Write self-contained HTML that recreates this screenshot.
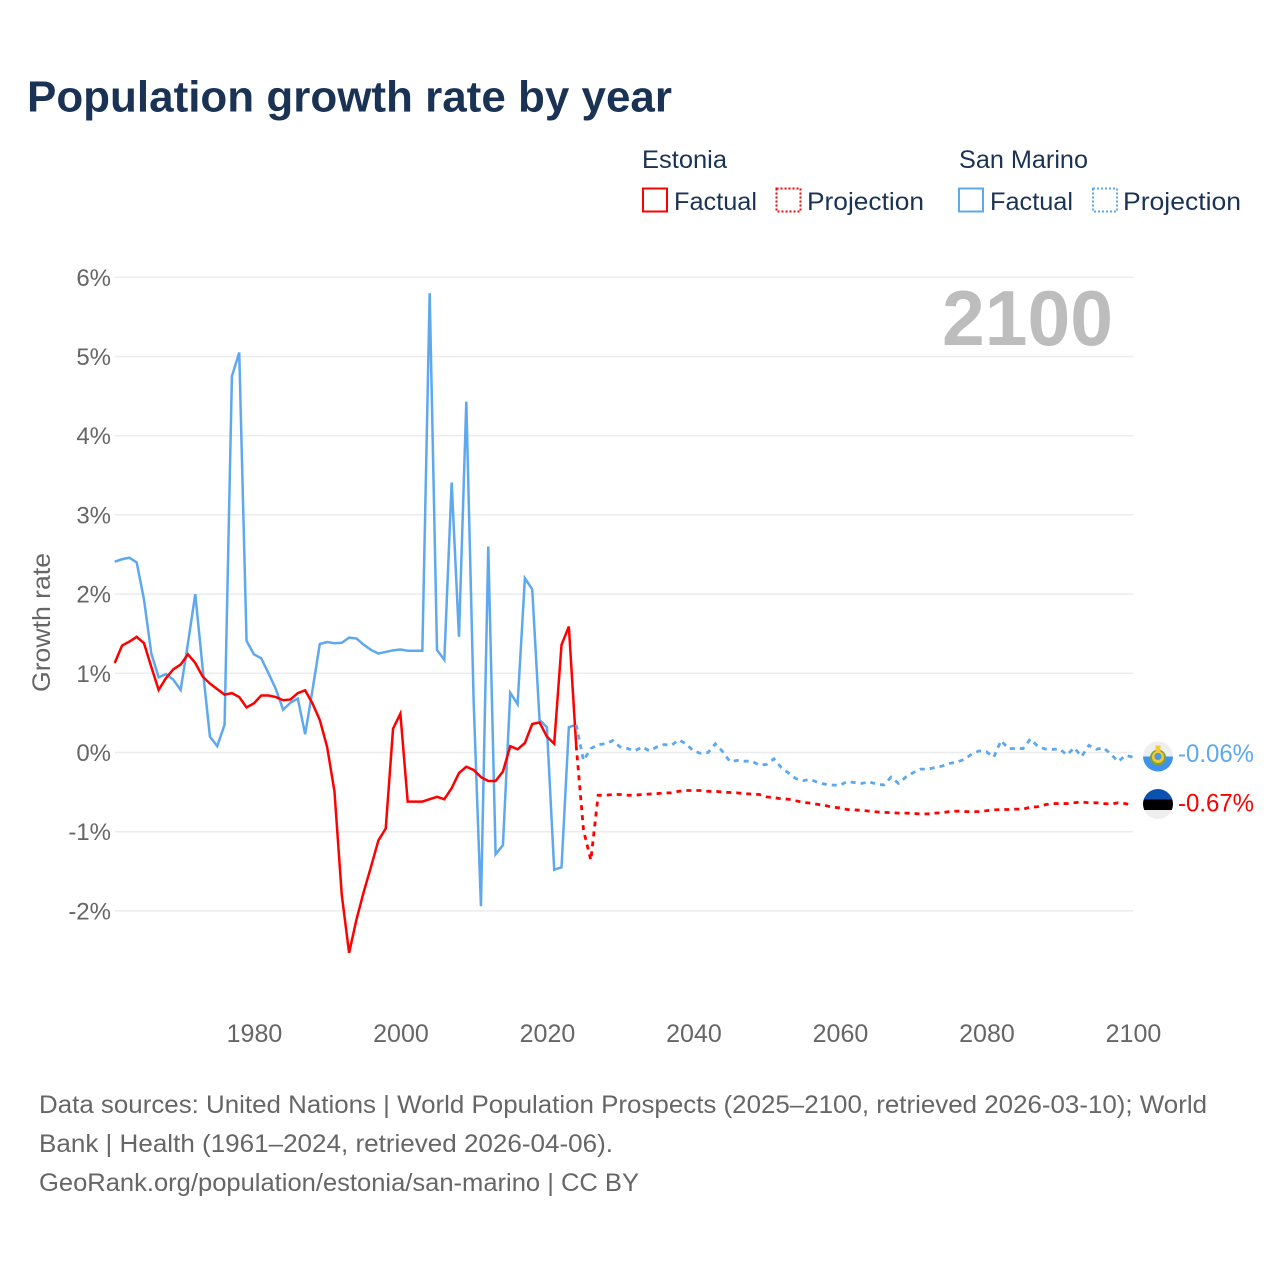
<!DOCTYPE html>
<html lang="en">
<head>
<meta charset="utf-8">
<title>Population growth rate by year</title>
<style>
html,body{margin:0;padding:0;background:#fff;}
svg{display:block;font-family:"Liberation Sans",sans-serif;}
</style>
</head>
<body>
<svg id="chart" width="1280" height="1280" viewBox="0 0 1280 1280" xmlns="http://www.w3.org/2000/svg">
  <defs>
    <clipPath id="clip-sm"><circle cx="1158" cy="756.5" r="15"/></clipPath>
    <clipPath id="clip-ee"><circle cx="1158" cy="804" r="15"/></clipPath>
  </defs>
  <rect x="0" y="0" width="1280" height="1280" fill="#fff"/>
  <text x="27" y="111.5" font-size="44" font-weight="700" fill="#1a3354" textLength="645" lengthAdjust="spacingAndGlyphs">Population growth rate by year</text>

  <g font-size="25" fill="#1a3354">
    <text x="642" y="168" textLength="85" lengthAdjust="spacingAndGlyphs">Estonia</text>
    <text x="959" y="168" textLength="129" lengthAdjust="spacingAndGlyphs">San Marino</text>
    <rect x="643" y="188.5" width="24" height="23" fill="none" stroke="#ff0000" stroke-width="2"/>
    <text x="674" y="210" textLength="83" lengthAdjust="spacingAndGlyphs">Factual</text>
    <rect x="776.5" y="188.5" width="24" height="23" fill="none" stroke="#ff0000" stroke-width="2" stroke-dasharray="2 2"/>
    <text x="807" y="210" textLength="117" lengthAdjust="spacingAndGlyphs">Projection</text>
    <rect x="959" y="188.5" width="24" height="23" fill="none" stroke="#5ea8ee" stroke-width="2"/>
    <text x="990" y="210" textLength="83" lengthAdjust="spacingAndGlyphs">Factual</text>
    <rect x="1093" y="188.5" width="24" height="23" fill="none" stroke="#5ea8ee" stroke-width="2" stroke-dasharray="2 2"/>
    <text x="1123" y="210" textLength="118" lengthAdjust="spacingAndGlyphs">Projection</text>
  </g>

  <g id="grid"></g>
  <g id="yticks"></g>
  <g id="xticks"></g>
  <text transform="translate(50,622.5) rotate(-90)" text-anchor="middle" font-size="25" fill="#666" textLength="139" lengthAdjust="spacingAndGlyphs">Growth rate</text>
  <text id="year-watermark" x="1113" y="345" text-anchor="end" font-size="78" font-weight="700" fill="#bdbdbd" textLength="171" lengthAdjust="spacingAndGlyphs">2100</text>

  <g id="series"></g>

  <g clip-path="url(#clip-sm)">
    <rect x="1143" y="741" width="30" height="16" fill="#eeeeee"/>
    <rect x="1143" y="756.5" width="30" height="16" fill="#3f92ea"/>
    <circle cx="1158" cy="757.5" r="8" fill="#7da33c"/>
    <circle cx="1158" cy="757" r="6" fill="#f3c935"/>
    <circle cx="1158" cy="756.5" r="3.6" fill="#4f97e0"/>
    <rect x="1155.5" y="745.5" width="5" height="6.5" fill="#f3c935"/>
  </g>
  <g clip-path="url(#clip-ee)">
    <rect x="1143" y="789" width="30" height="10.5" fill="#0a52ae"/>
    <rect x="1143" y="799.5" width="30" height="10.5" fill="#000"/>
    <rect x="1143" y="810" width="30" height="10" fill="#eeeeee"/>
  </g>

  <g id="end-labels"></g>

  <g font-size="25" fill="#666">
    <text x="39" y="1113" textLength="1168" lengthAdjust="spacingAndGlyphs">Data sources: United Nations | World Population Prospects (2025–2100, retrieved 2026-03-10); World</text>
    <text x="39" y="1152" textLength="574" lengthAdjust="spacingAndGlyphs">Bank | Health (1961–2024, retrieved 2026-04-06).</text>
    <text x="39" y="1191" textLength="600" lengthAdjust="spacingAndGlyphs">GeoRank.org/population/estonia/san-marino | CC BY</text>
  </g>
</svg>
<script>
const yTickValues = [6, 5, 4, 3, 2, 1, 0, -1, -2];
const yTickLabels = ['6%', '5%', '4%', '3%', '2%', '1%', '0%', '-1%', '-2%'];
const xTickYears = [1980, 2000, 2020, 2040, 2060, 2080, 2100];
const factualStartYear = 1961;
const projectionStartYear = 2024;

const estoniaFactual = [
  1.13, 1.35, 1.40, 1.46, 1.38, 1.08, 0.79, 0.94, 1.05,
  1.11, 1.24, 1.13, 0.96, 0.87, 0.80, 0.73, 0.75, 0.70, 0.57,
  0.62, 0.72, 0.72, 0.70, 0.66, 0.67, 0.75, 0.785, 0.62, 0.41,
  0.07, -0.49, -1.80, -2.53, -2.11, -1.76, -1.44, -1.11, -0.96, 0.30,
  0.49, -0.62, -0.62, -0.62, -0.59, -0.56, -0.59, -0.45, -0.26, -0.18,
  -0.22, -0.31, -0.36, -0.36, -0.24, 0.08, 0.04, 0.12, 0.36, 0.38,
  0.20, 0.11, 1.36, 1.59, 0.09
];
const sanMarinoFactual = [
  2.41, 2.44, 2.46, 2.40, 1.93, 1.25, 0.95, 0.99, 0.92,
  0.79, 1.38, 2.00, 1.07, 0.20, 0.08, 0.35, 4.75, 5.05, 1.41,
  1.24, 1.19, 1.00, 0.80, 0.54, 0.63, 0.68, 0.23, 0.79, 1.37,
  1.395, 1.38, 1.385, 1.45, 1.44, 1.36, 1.295, 1.25, 1.27, 1.29,
  1.30, 1.285, 1.285, 1.285, 5.80, 1.295, 1.17, 3.41, 1.46, 4.43,
  0.65, -1.94, 2.60, -1.285, -1.17, 0.755, 0.61, 2.20, 2.06, 0.41,
  0.32, -1.48, -1.45, 0.32, 0.35
];
const estoniaProjection = [
  0.09, -0.98, -1.36, -0.54, -0.54, -0.53, -0.53, -0.54, -0.54, -0.53,
  -0.525, -0.52, -0.51, -0.51, -0.49, -0.48, -0.48, -0.48, -0.49, -0.49,
  -0.50, -0.505, -0.51, -0.52, -0.525, -0.53, -0.56, -0.57, -0.585, -0.59,
  -0.61, -0.63, -0.64, -0.655, -0.67, -0.69, -0.70, -0.72, -0.725, -0.73,
  -0.74, -0.75, -0.755, -0.76, -0.765, -0.765, -0.77, -0.776, -0.775, -0.765,
  -0.76, -0.745, -0.74, -0.745, -0.75, -0.745, -0.735, -0.725, -0.72, -0.72,
  -0.715, -0.715, -0.69, -0.685, -0.66, -0.645, -0.645, -0.645, -0.635, -0.625,
  -0.635, -0.635, -0.645, -0.65, -0.635, -0.645, -0.67
];
const sanMarinoProjection = [
  0.35, -0.10, 0.05, 0.10, 0.11, 0.15, 0.07, 0.05, 0.02, 0.07,
  0.02, 0.07, 0.10, 0.09, 0.16, 0.11, 0.02, -0.01, 0.00, 0.11,
  0.01, -0.115, -0.10, -0.11, -0.11, -0.16, -0.15, -0.08, -0.19, -0.26,
  -0.33, -0.355, -0.34, -0.38, -0.40, -0.41, -0.415, -0.365, -0.38, -0.39,
  -0.37, -0.40, -0.41, -0.31, -0.39, -0.31, -0.255, -0.21, -0.21, -0.19,
  -0.17, -0.137, -0.12, -0.086, -0.02, 0.02, 0.01, -0.06, 0.15, 0.05,
  0.05, 0.05, 0.17, 0.08, 0.045, 0.04, 0.045, -0.03, 0.06, -0.05,
  0.09, 0.04, 0.06, -0.02, -0.115, -0.036, -0.06
];
const endValueLabels = ['-0.06%', '-0.67%'];
const endColors = ['#5ea8ee', '#ff0000'];
const endNames = ['end-label-san-marino', 'end-label-estonia'];

const SVGNS = 'http://www.w3.org/2000/svg';
const xScale = function (year) { return 114.7 + (year - 1961) * 7.325; };
const yScale = function (value) { return 752.5 - value * 79.2; };

function svgEl(tag, parent) {
  const el = document.createElementNS(SVGNS, tag);
  document.getElementById(parent).appendChild(el);
  return el;
}

yTickValues.forEach(function (v, i) {
  const line = svgEl('line', 'grid');
  
  
  line.setAttribute('x1', 115);
  line.setAttribute('x2', 1133);
  line.setAttribute('y1', yScale(v));
  line.setAttribute('y2', yScale(v));
  line.setAttribute('stroke', '#ececec');
  line.setAttribute('stroke-width', 1.5);

  const t = svgEl('text', 'yticks');
  
  
  t.setAttribute('x', 111);
  t.setAttribute('y', yScale(v) + 8.5);
  t.setAttribute('text-anchor', 'end');
  t.setAttribute('font-size', 24);
  t.setAttribute('fill', '#666');
  t.textContent = yTickLabels[i];
});

xTickYears.forEach(function (year) {
  const t = svgEl('text', 'xticks');
  
  
  t.setAttribute('x', xScale(year) + 0.6);
  t.setAttribute('y', 1042);
  t.setAttribute('text-anchor', 'middle');
  t.setAttribute('font-size', 25);
  t.setAttribute('fill', '#666');
  t.textContent = String(year);
});

function linePath(values, startYear) {
  return values.map(function (v, i) {
    return (i ? 'L' : 'M') + xScale(startYear + i).toFixed(2) + ' ' + yScale(v).toFixed(2);
  }).join(' ');
}

function drawLine(values, startYear, color, dashed, name) {
  const p = svgEl('path', 'series');
  
  
  p.setAttribute('d', linePath(values, startYear));
  p.setAttribute('fill', 'none');
  p.setAttribute('stroke', color);
  p.setAttribute('stroke-width', dashed ? 2.8 : 2.5);
  p.setAttribute('stroke-linejoin', 'miter');
  if (dashed) {
    p.setAttribute('stroke-dasharray', '5 5');
  }
}

drawLine(sanMarinoFactual, factualStartYear, '#5ea8ee', false, 'san-marino-factual-line');
drawLine(estoniaFactual, factualStartYear, '#ff0000', false, 'estonia-factual-line');
drawLine(estoniaProjection, projectionStartYear, '#ff0000', true, 'estonia-projection-line');
drawLine(sanMarinoProjection, projectionStartYear, '#5ea8ee', true, 'san-marino-projection-line');

endValueLabels.forEach(function (label, i) {
  const t = svgEl('text', 'end-labels');
  
  
  t.setAttribute('x', 1178);
  t.setAttribute('y', i === 0 ? 762 : 811.5);
  t.setAttribute('font-size', 25);
  t.setAttribute('fill', endColors[i]);
  t.setAttribute('textLength', 76);
  t.setAttribute('lengthAdjust', 'spacingAndGlyphs');
  t.textContent = label;
});
</script>
</body>
</html>
